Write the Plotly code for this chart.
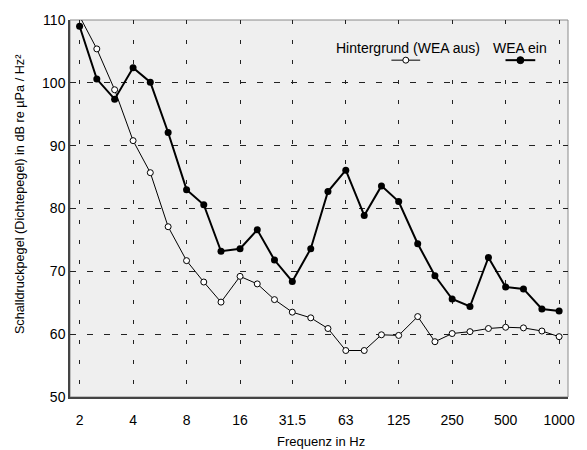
import plotly.graph_objects as go
import math

freqs = [2, 2.5, 3.15, 4, 5, 6.3, 8, 10, 12.5, 16, 20, 25, 31.5, 40, 50, 63, 80,
         100, 125, 160, 200, 250, 315, 400, 500, 630, 800, 1000]
wea_ein = [109.0, 100.6, 97.4, 102.4, 100.1, 92.1, 83.0, 80.6, 73.2, 73.6, 76.6, 71.8,
           68.4, 73.6, 82.7, 86.1, 78.9, 83.6, 81.1, 74.4, 69.3, 65.6, 64.4, 72.2,
           67.5, 67.2, 64.0, 63.7]
hintergrund = [110.6, 105.4, 98.9, 90.8, 85.7, 77.1, 71.7, 68.3, 65.1, 69.2, 68.0, 65.5,
               63.5, 62.6, 60.9, 57.4, 57.4, 59.9, 59.8, 62.8, 58.8, 60.1, 60.4, 60.9,
               61.1, 61.0, 60.5, 59.6]
x_ticks = [2, 4, 8, 16, 31.5, 63, 125, 250, 500, 1000]
x_ticktext = ["2", "4", "8", "16", "31.5", "63", "125", "250", "500", "1000"]
y_ticks = [50, 60, 70, 80, 90, 100, 110]

FONT = "Liberation Sans, Arial, sans-serif"
BG = "#efefef"

fig = go.Figure()
fig.add_trace(go.Scatter(
    x=freqs, y=hintergrund, mode="lines+markers", name="Hintergrund (WEA aus)",
    line=dict(color="black", width=1),
    marker=dict(symbol="circle", size=6, color="white", line=dict(color="black", width=1)),
    showlegend=False))
fig.add_trace(go.Scatter(
    x=freqs, y=wea_ein, mode="lines+markers", name="WEA ein",
    line=dict(color="black", width=2),
    marker=dict(symbol="circle", size=7, color="black"),
    showlegend=False))

W0, W1, H0, H1 = 70, 572, 15, 397


def px(x):
    return (x - W0) / (W1 - W0)


def py(y):
    return (H1 - y) / (H1 - H0)


shapes = [
    dict(type="rect", xref="paper", yref="paper", x0=0, x1=1, y0=0, y1=1,
         line=dict(color="#8a8a8a", width=1), layer="below"),
    # legend background box covering grid lines
    dict(type="rect", xref="paper", yref="paper", x0=px(335), x1=px(554),
         y0=py(70), y1=py(25), fillcolor=BG, line=dict(width=0)),
]
annotations = []
for label, cx, lx0, lx1, filled, lw in [
        ("Hintergrund (WEA aus)", 411, 394, 423, False, 1),
        ("WEA ein", 524, 509, 539, True, 2)]:
    annotations.append(dict(text=label, xref="paper", yref="paper", x=px(cx), y=py(43),
                            showarrow=False, xanchor="center", yanchor="middle",
                            font=dict(family=FONT, size=14, color="black")))
    shapes.append(dict(type="line", xref="paper", yref="paper", x0=px(lx0), x1=px(lx1),
                       y0=py(55.7), y1=py(55.7), line=dict(color="black", width=lw)))
    mx = (lx0 + lx1) / 2
    r = 3.5 if filled else 3
    shapes.append(dict(type="circle", xref="paper", yref="paper",
                       xsizemode="pixel", ysizemode="pixel",
                       xanchor=px(mx), yanchor=py(55.7),
                       x0=-r, x1=r, y0=-r, y1=r,
                       fillcolor="black" if filled else "white",
                       line=dict(color="black", width=1)))

# axis titles
annotations.append(dict(text="Frequenz in Hz", xref="paper", yref="paper",
                        x=px(323), y=py(442), showarrow=False,
                        xanchor="center", yanchor="middle",
                        font=dict(family=FONT, size=13, color="black")))
annotations.append(dict(text="Schalldruckpegel (Dichtepegel) in dB re µPa / Hz²",
                        xref="paper", yref="paper", x=px(19), y=py(191),
                        showarrow=False, textangle=-90,
                        xanchor="center", yanchor="middle",
                        font=dict(family=FONT, size=12.7, color="black")))

fig.update_layout(
    width=587, height=450,
    margin=dict(l=W0, r=587 - W1, t=H0, b=450 - H1),
    paper_bgcolor="white", plot_bgcolor=BG,
    font=dict(family=FONT, size=14, color="black"),
    shapes=shapes, annotations=annotations,
    xaxis=dict(type="log", range=[math.log10(2) - 0.054, 3.05],
               tickvals=x_ticks, ticktext=x_ticktext, ticks="",
               ticklabelstandoff=9,
               showgrid=True, gridcolor="#222", gridwidth=1, griddash="4px,16px",
               showline=True, linecolor="#444", linewidth=1.5,
               zeroline=False, tickfont=dict(size=14)),
    yaxis=dict(range=[50, 110], tickvals=y_ticks, ticks="",
               showgrid=True, gridcolor="#222", gridwidth=1, griddash="6px,11px",
               showline=True, linecolor="#444", linewidth=1.5,
               zeroline=False, tickfont=dict(size=14)),
)

fig.write_html("out.html")
